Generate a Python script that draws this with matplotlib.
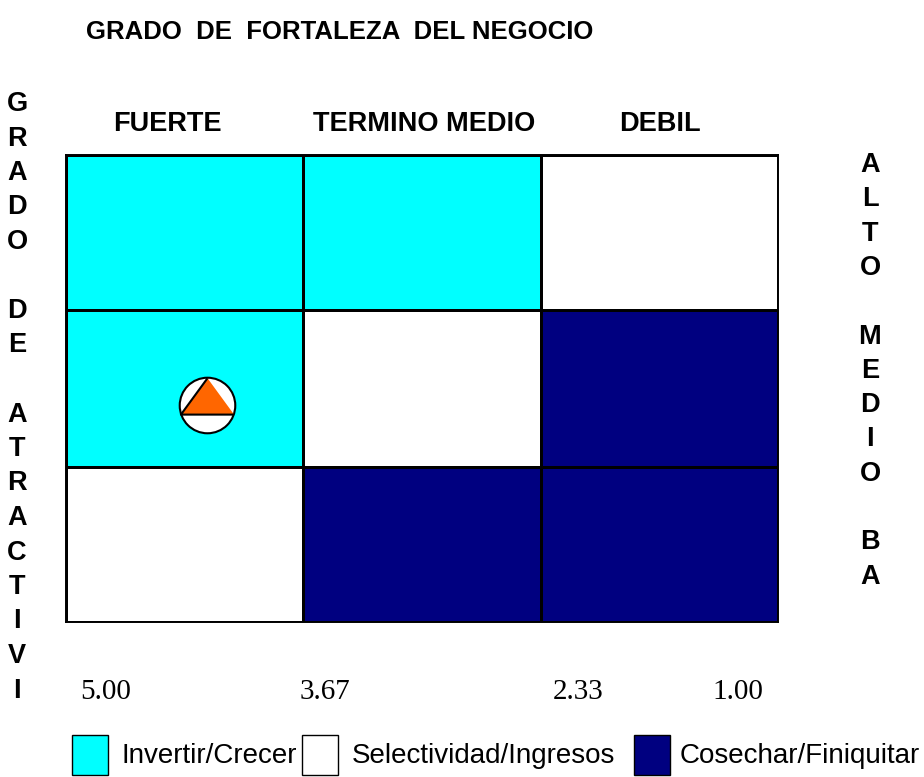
import numpy as np
import matplotlib
matplotlib.use('Agg')
import matplotlib.pyplot as plt
from matplotlib.colors import ListedColormap
from matplotlib.patches import Rectangle

# datos de la matriz
columnas = ['FUERTE', 'TERMINO MEDIO', 'DEBIL']
x_edges = [5.00, 3.67, 2.33, 1.00]
y_edges = [1.00, 2.33, 3.67, 5.00]
# 0 invertir, 1 selectividad, 2 cosechar  (filas: bajo, medio, alto)
zonas = [[1, 2, 2],
         [0, 1, 2],
         [0, 0, 1]]
tick_labels = ['5.00', '3.67', '2.33', '1.00']
leyenda = ['Invertir/Crecer', 'Selectividad/Ingresos', 'Cosechar/Finiquitar']
colores = ['#00FFFF', '#FFFFFF', '#000080']
titulo = 'GRADO  DE  FORTALEZA  DEL NEGOCIO'
texto_izq = 'GRADO DE ATRACTIVI'
texto_der = 'ALTO MEDIO BA'
empresa_x = 4.21
empresa_y = 2.86

W, H = 924, 777
plt.rcParams['font.family'] = ['Liberation Sans', 'DejaVu Sans']
fig = plt.figure(figsize=(W / 100, H / 100), dpi=100)

# capa de textos en pixeles
ov = fig.add_axes([0, 0, 1, 1])
ov.set_xlim(0, W)
ov.set_ylim(H, 0)
ov.axis('off')

# matriz
ax = fig.add_axes([66 / W, (H - 622) / H, 712 / W, 467 / H])
ax.pcolormesh(x_edges, y_edges, np.array(zonas), cmap=ListedColormap(colores),
              vmin=-0.5, vmax=2.5, edgecolors='black', linewidth=0.8)
ax.set_xlim(5, 1)
ax.set_ylim(1, 5)
ax.set_xticks([])
ax.set_yticks([])
for s in ax.spines.values():
    s.set_linewidth(1.4)

# posicion de la empresa
ax.plot(empresa_x, empresa_y, 'o', ms=40, mfc='white', mec='black', mew=1.5, zorder=5)
tri = [(0, 27), (-26.3, -9), (26.3, -9)]
ax.plot(empresa_x, empresa_y, marker=tri, ms=39.3, mfc='#FF6600', mec='black',
        mew=1.5, ls='none', zorder=6)

# titulos
ov.text(340, 32, titulo, fontsize=18.5, fontweight='bold', ha='center', va='center')
for c, xc in zip(columnas, [167, 424, 660]):
    ov.text(xc, 124, c, fontsize=19.5, fontweight='bold', ha='center', va='center')

for i, ch in enumerate(texto_izq):
    ov.text(17, 104 + i * 34.5, ch, fontsize=19.5, fontweight='bold', ha='center', va='center')
for i, ch in enumerate(texto_der):
    ov.text(870, 165 + i * 34.3, ch, fontsize=19.5, fontweight='bold', ha='center', va='center')

# etiquetas del eje
for t, xl in zip(tick_labels, [80, 300, 553, 712]):
    ov.text(xl, 692, t, fontsize=21, family='Liberation Serif', ha='left', va='center')

# leyenda
for col, lab, xs, xt in zip(colores, leyenda, [72, 302, 634], [121, 352, 680]):
    ov.add_patch(Rectangle((xs, 735), 36, 40, facecolor=col, edgecolor='black', lw=1))
    ov.text(xt, 756, lab, fontsize=20, ha='left', va='center')

fig.savefig('out.png', dpi=100)
